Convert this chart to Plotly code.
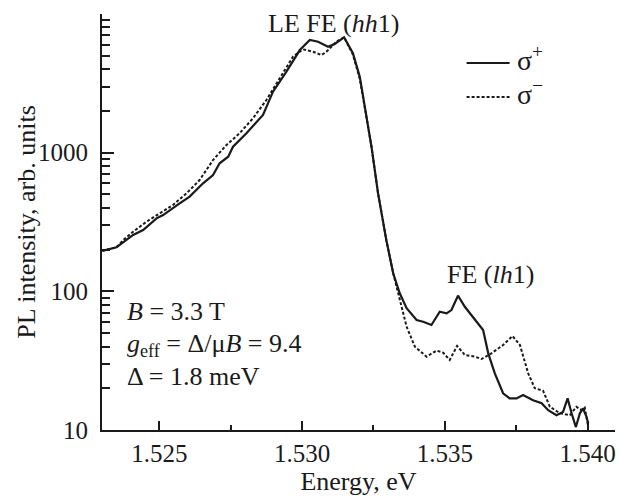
import plotly.graph_objects as go

# sigma+ (solid)
energy_plus = [1.52300, 1.52350, 1.52408, 1.52443, 1.52490, 1.52513, 1.52571, 1.52606,
               1.52653, 1.52688, 1.52711, 1.52741, 1.52758, 1.52805, 1.52863, 1.52898,
               1.52945, 1.52992, 1.53027, 1.53056, 1.53091, 1.53114, 1.53147, 1.53178,
               1.53202, 1.53219, 1.53243, 1.53266, 1.53278, 1.53295, 1.53319, 1.53342,
               1.53366, 1.53401, 1.53424, 1.53453, 1.53482, 1.53506, 1.53523, 1.53546,
               1.53570, 1.53605, 1.53634, 1.53652, 1.53675, 1.53704, 1.53727, 1.53751,
               1.53774, 1.53809, 1.53839, 1.53862, 1.53891, 1.53914, 1.53930, 1.53944,
               1.53959, 1.53973, 1.53984, 1.53996, 1.54002]
intensity_plus = [196, 208, 255, 277, 336, 355, 431, 482,
                  601, 690, 838, 935, 1104, 1380, 1872, 2754,
                  3838, 5495, 6490, 6310, 5810, 6081, 6797, 5212,
                  3532, 2148, 1104, 509, 366, 234, 135, 96.8,
                  75.5, 62.1, 60.4, 57.2, 71.3, 69.4, 73.3, 93,
                  77.4, 62, 52.6, 35.7, 25.6, 18.4, 16.9, 16.9,
                  17.9, 16.4, 15.6, 13.9, 12.8, 13.5, 16.9, 13.2,
                  10.5, 13.2, 14.3, 12.5, 11.2]

# sigma- (dotted)
energy_minus = [1.52300, 1.52350, 1.52373, 1.52408, 1.52455, 1.52501, 1.52548, 1.52595,
                1.52641, 1.52688, 1.52735, 1.52781, 1.52828, 1.52875, 1.52922, 1.52968,
                1.53003, 1.53038, 1.53068, 1.53085, 1.53120, 1.53147, 1.53178, 1.53202,
                1.53219, 1.53243, 1.53266, 1.53295, 1.53319, 1.53325, 1.53348, 1.53366,
                1.53395, 1.53436, 1.53471, 1.53494, 1.53517, 1.53543, 1.53570, 1.53605,
                1.53628, 1.53663, 1.53704, 1.53737, 1.53763, 1.53792, 1.53815, 1.53844,
                1.53868, 1.53903, 1.53938, 1.53961, 1.53979, 1.53990, 1.54002]
intensity_minus = [196, 208, 234, 269, 318, 366, 420, 509,
                   635, 885, 1135, 1380, 1770, 2399, 3436, 4922,
                   5560, 5347, 5058, 5347, 6310, 6797, 5100, 3400,
                   2148, 1104, 509, 234, 135, 121, 77.4, 55.6,
                   39.9, 33.8, 37.4, 36.1, 32, 40.4, 34.8, 33.8,
                   32.5, 35.7, 41, 47.6, 41, 25.6, 20, 19.2,
                   14.7, 13.2, 12.8, 14.7, 13.9, 14.5, 10.6]

y_major = [10, 100, 1000]
y_major_labels = ["10", "100", "1000"]
y_minor = [m * d for d in (10, 100, 1000) for m in range(2, 10)]

series_names = ["σ<sup>+</sup>", "σ<sup>−</sup>"]

INK = "#1a1a1a"
FONT = "Liberation Serif"
DASH = "3px,2px"

fig = go.Figure()
fig.add_trace(go.Scatter(x=energy_plus, y=intensity_plus, mode="lines",
                         name=series_names[0], showlegend=False,
                         line=dict(color=INK, width=2.2)))
fig.add_trace(go.Scatter(x=energy_minus, y=intensity_minus, mode="lines",
                         name=series_names[1], showlegend=False,
                         line=dict(color=INK, width=2, dash=DASH)))

fig.update_layout(
    width=629, height=496,
    margin=dict(l=102, r=14, t=14, b=66, autoexpand=False),
    paper_bgcolor="white", plot_bgcolor="white",
    font=dict(family=FONT, size=25, color=INK),
    showlegend=False,
)

fig.update_xaxes(
    range=[1.52299, 1.54096], automargin=False,
    tick0=1.525, dtick=0.005, tickformat=".3f",
    tickfont=dict(family=FONT, size=25, color=INK),
    ticks="inside", ticklen=9, tickwidth=1.5, tickcolor=INK,
    minor=dict(ticks="inside", ticklen=5, tickwidth=1.5, tickcolor=INK,
               dtick=0.0025, tick0=1.525, showgrid=False),
    showline=True, linewidth=2, linecolor=INK,
    showgrid=False, zeroline=False,
    ticklabelstandoff=0,
    title=dict(text="Energy, eV", font=dict(family=FONT, size=26, color=INK), standoff=8),
)

fig.update_yaxes(
    type="log", range=[1, 4], automargin=False,
    tickmode="array", tickvals=y_major, ticktext=y_major_labels,
    tickfont=dict(family=FONT, size=25, color=INK),
    ticks="inside", ticklen=12, tickwidth=1.5, tickcolor=INK,
    minor=dict(ticks="inside", ticklen=8, tickwidth=1.5, tickcolor=INK,
               tickmode="array", tickvals=y_minor, showgrid=False),
    showline=True, linewidth=2, linecolor=INK,
    showgrid=False, zeroline=False,
    ticklabelstandoff=7,
)

# y-axis title as a rotated annotation for exact placement
fig.add_annotation(xref="paper", yref="paper", x=-0.1488, y=0.5,
                   text="PL intensity, arb. units", textangle=-90, showarrow=False,
                   xanchor="center", yanchor="middle",
                   font=dict(family=FONT, size=26, color=INK))

ann_font = dict(family=FONT, size=26, color=INK)
fig.add_annotation(xref="paper", yref="paper", x=0.452, y=0.976,
                   text="LE FE (<i>hh</i>1)", showarrow=False,
                   xanchor="center", yanchor="middle", font=ann_font)
fig.add_annotation(xref="paper", yref="paper", x=0.757, y=0.3726,
                   text="FE (<i>lh</i>1)", showarrow=False,
                   xanchor="center", yanchor="middle", font=ann_font)
fig.add_annotation(xref="paper", yref="paper", x=0.044, y=0.284,
                   text="<i>B</i> = 3.3 T", showarrow=False,
                   xanchor="left", yanchor="middle", font=ann_font)
fig.add_annotation(xref="paper", yref="paper", x=0.044, y=0.205,
                   text="<i>g</i><sub>eff</sub> = Δ/μ<i>B</i> = 9.4", showarrow=False,
                   xanchor="left", yanchor="middle", font=ann_font)
fig.add_annotation(xref="paper", yref="paper", x=0.044, y=0.128,
                   text="Δ = 1.8 meV", showarrow=False,
                   xanchor="left", yanchor="middle", font=ann_font)

# legend (drawn as sample lines + labels)
legend_rows = [(0.8822, None), (0.8005, DASH)]
for (ly, dash), name in zip(legend_rows, series_names):
    fig.add_shape(type="line", xref="paper", yref="paper",
                  x0=0.7107, x1=0.7945, y0=ly, y1=ly,
                  line=dict(color=INK, width=2.2 if dash is None else 2,
                            dash=dash if dash else "solid"))
    fig.add_annotation(xref="paper", yref="paper", x=0.805, y=ly + 0.012,
                       text=name, showarrow=False, xanchor="left", yanchor="middle",
                       font=dict(family=FONT, size=28, color=INK))

fig.write_html("out.html", config={"displayModeBar": False},
               post_script="document.body.style.margin='0';document.body.style.overflow='hidden';")
